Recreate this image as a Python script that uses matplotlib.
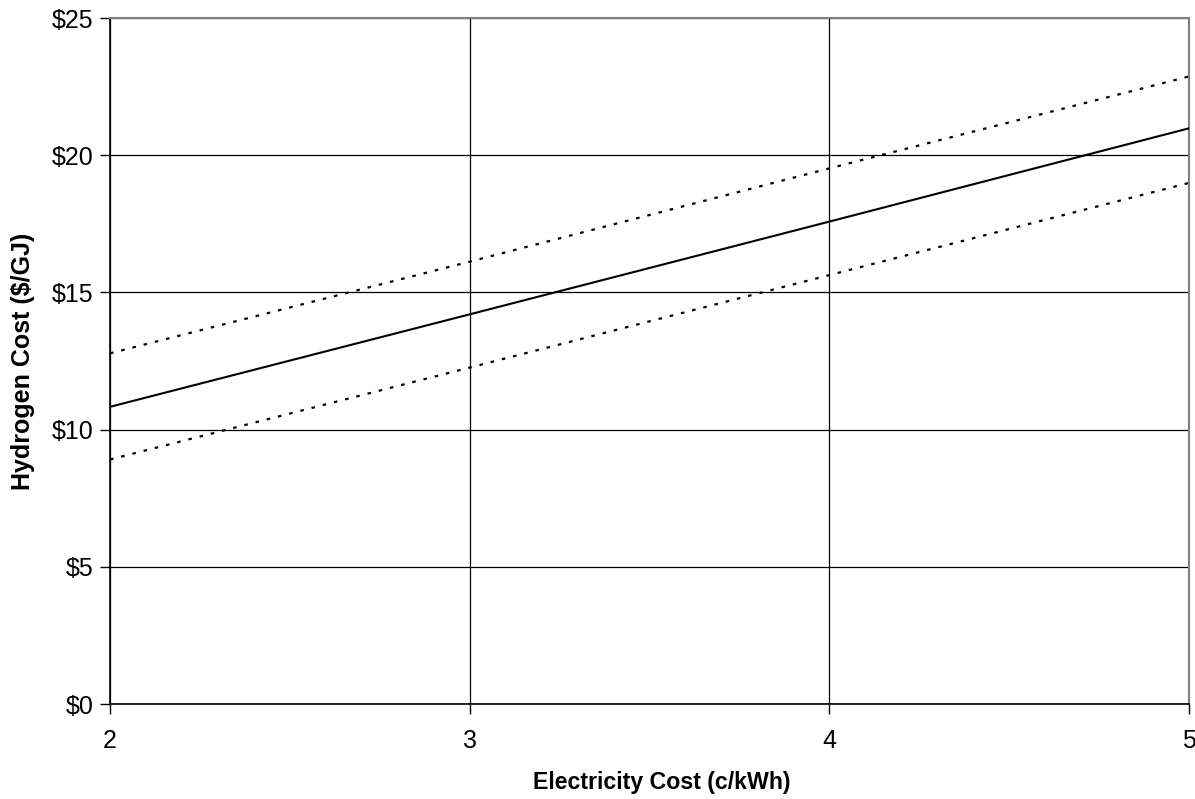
import matplotlib
matplotlib.use("Agg")
import matplotlib.pyplot as plt
from matplotlib.ticker import FuncFormatter

plt.rcParams['font.family'] = ['Liberation Sans', 'DejaVu Sans']

electricity_cost = [2, 3, 4, 5]
hydrogen_cost = [10.83, 14.20, 17.58, 20.98]
hydrogen_cost_high = [12.78, 16.12, 19.52, 22.87]
hydrogen_cost_low = [8.91, 12.26, 15.63, 18.99]
y_ticks = [0, 5, 10, 15, 20, 25]
x_ticks = [2, 3, 4, 5]

fig = plt.figure(figsize=(11.95, 7.99), dpi=100)
ax = fig.add_axes([110/1195, 1-704/799, (1189-110)/1195, (704-18)/799])

ax.plot(electricity_cost, hydrogen_cost, color='black', lw=1.5, zorder=3)
ax.plot(electricity_cost, hydrogen_cost_high, color='black', lw=1.6, ls=(0, (1.6, 3.6)), zorder=3)
ax.plot(electricity_cost, hydrogen_cost_low, color='black', lw=1.6, ls=(0, (1.6, 3.6)), zorder=3)

ax.set_xlim(2, 5)
ax.set_ylim(0, 25)
ax.set_xticks(x_ticks)
ax.set_yticks(y_ticks)
ax.yaxis.set_major_formatter(FuncFormatter(lambda v, p: f"${v:.0f}"))
ax.grid(True, color='black', lw=0.9)
ax.set_axisbelow(True)

for s in ['top', 'right']:
    ax.spines[s].set_color('#808080')
    ax.spines[s].set_linewidth(1.5)
for s in ['left', 'bottom']:
    ax.spines[s].set_color('black')
    ax.spines[s].set_linewidth(1.2)

ax.tick_params(axis='both', direction='out', length=7, width=1, color='black', labelsize=18)
ax.tick_params(axis='x', pad=11)
ax.tick_params(axis='y', pad=5)

ax.set_xlabel('Electricity Cost (c/kWh)', fontsize=16.7, fontweight='bold', va='center')
ax.set_ylabel('Hydrogen Cost ($/GJ)', fontsize=18, fontweight='bold', va='center')
ax.xaxis.set_label_coords((662 - 110) / 1079, (704 - 782) / 686)
ax.yaxis.set_label_coords((23 - 110) / 1079, 0.5)

fig.savefig('out.png', dpi=100)
